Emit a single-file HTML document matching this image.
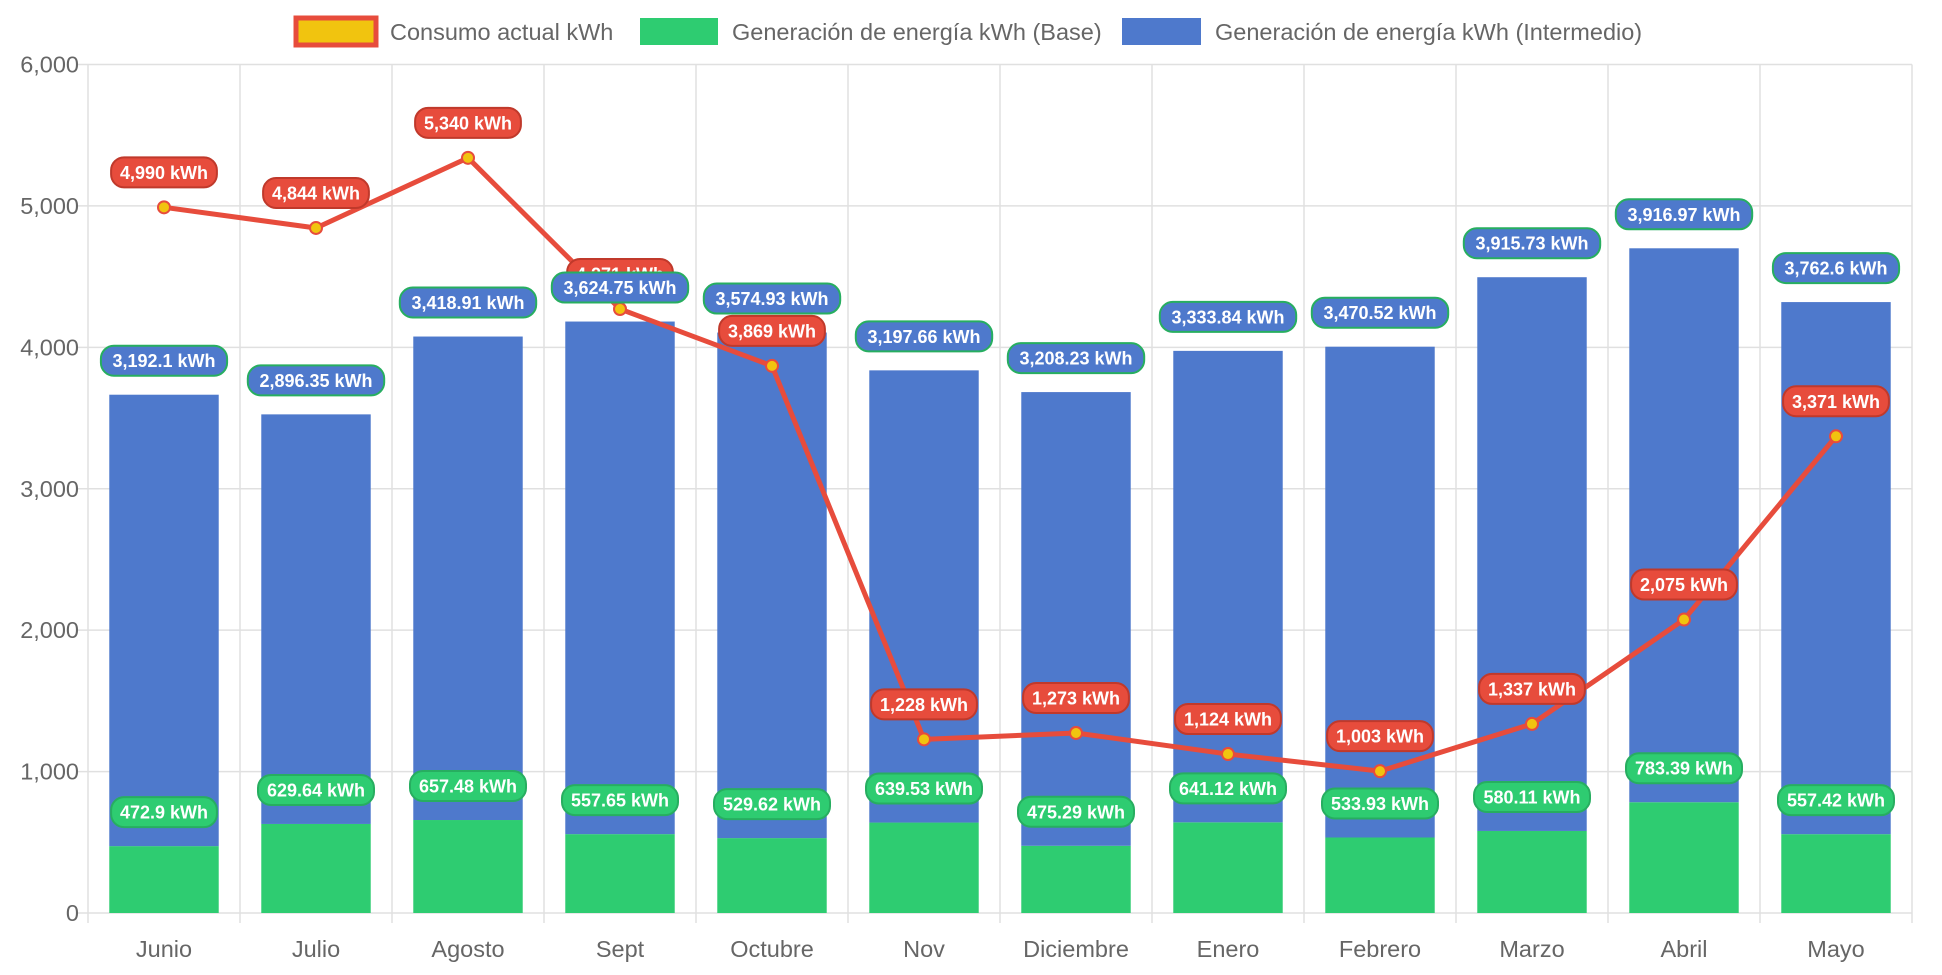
<!DOCTYPE html>
<html><head><meta charset="utf-8"><style>
body{margin:0;background:#fff;font-family:"Liberation Sans",Arial,sans-serif}
svg text{font-family:"Liberation Sans",Arial,sans-serif}
</style></head><body>
<svg id="chart" width="1942" height="970" xmlns="http://www.w3.org/2000/svg">
<g id="legend">
 <g><rect x="296" y="18" width="80" height="27" fill="#f1c40f" stroke="#e74c3c" stroke-width="5"/><text x="390" y="40" font-size="23.5" fill="#666">Consumo actual kWh</text></g>
 <g><rect x="640" y="18" width="78" height="27" fill="#2ecc71"/><text x="732" y="40" font-size="23.5" fill="#666">Generación de energía kWh (Base)</text></g>
 <g><rect x="1122" y="18" width="79" height="27" fill="#4e79cc"/><text x="1215" y="40" font-size="23.5" fill="#666">Generación de energía kWh (Intermedio)</text></g>
</g>
<g id="grid"></g><g id="bars"></g><g id="line"></g><g id="labels"></g>
</svg>
<script>
const categories=["Junio","Julio","Agosto","Sept","Octubre","Nov","Diciembre","Enero","Febrero","Marzo","Abril","Mayo"];
const baseValues=[472.9,629.64,657.48,557.65,529.62,639.53,475.29,641.12,533.93,580.11,783.39,557.42];
const interValues=[3192.1,2896.35,3418.91,3624.75,3574.93,3197.66,3208.23,3333.84,3470.52,3915.73,3916.97,3762.6];
const consumo=[4990,4844,5340,4271,3869,1228,1273,1124,1003,1337,2075,3371];
const yTicks=[0,1000,2000,3000,4000,5000,6000];
const NS="http://www.w3.org/2000/svg";
const X0=88,X1=1912,Y0=913,YMAX=6000,YTOP=64.5;
const bw=(X1-X0)/categories.length;
function y(v){return Y0-(v/YMAX)*(Y0-YTOP);}
function xc(i){return X0+bw*(i+0.5);}
function mk(tag,attrs,parent){const e=document.createElementNS(NS,tag);for(const k in attrs)e.setAttribute(k,attrs[k]);parent.appendChild(e);return e;}
const grid=document.getElementById('grid'),bars=document.getElementById('bars'),line=document.getElementById('line'),labels=document.getElementById('labels');
yTicks.forEach(t=>{
 const l=mk('line',{x1:X0-10,x2:X1,y1:y(t),y2:y(t),stroke:'#e0e0e0','stroke-width':1.5},grid);
 
 
 const tx=mk('text',{x:X0-9,y:y(t)+8,'text-anchor':'end','font-size':23.5,fill:'#666'},grid);
 tx.textContent=t.toLocaleString('en-US');
 
 
});
for(let i=0;i<=categories.length;i++){
 const x=X0+bw*i;
 const l=mk('line',{x1:x,x2:x,y1:YTOP,y2:Y0+10,stroke:'#e0e0e0','stroke-width':1.5},grid);
 
 
}
categories.forEach((c,i)=>{
 const tx=mk('text',{x:xc(i),y:957,'text-anchor':'middle','font-size':23.5,fill:'#666'},grid);
 tx.textContent=c;
 
 
});
function label(cx,cy,txt,bg,border){
 const g=mk('g',{},labels);
 
 
 const w=txt.length*10.2+14;
 mk('rect',{x:cx-w/2,y:cy-15,width:w,height:30,rx:13,fill:bg,stroke:border,'stroke-width':2},g);
 const t=mk('text',{x:cx,y:cy+6.5,'text-anchor':'middle','font-size':18,'font-weight':'bold',fill:'#fff'},g);
 t.textContent=txt;
}
const barW=bw*0.72;
categories.forEach((c,i)=>{
 const b=mk('rect',{x:xc(i)-barW/2,y:y(baseValues[i]),width:barW,height:Y0-y(baseValues[i]),fill:'#2ecc71'},bars);
 
 
 const top=baseValues[i]+interValues[i];
 const b2=mk('rect',{x:xc(i)-barW/2,y:y(top),width:barW,height:y(baseValues[i])-y(top),fill:'#4e79cc'},bars);
 
 
});
const pts=consumo.map((v,i)=>xc(i)+','+y(v)).join(' ');
const pl=mk('polyline',{points:pts,fill:'none',stroke:'#e74c3c','stroke-width':5,'stroke-linejoin':'round'},line);


consumo.forEach((v,i)=>{
 const p=mk('circle',{cx:xc(i),cy:y(v),r:6,fill:'#f1c40f',stroke:'#e74c3c','stroke-width':2},line);
 
 
});
const fmt=v=>v.toLocaleString('en-US',{maximumFractionDigits:2});
consumo.forEach((v,i)=>label(xc(i),y(v)-35,fmt(v)+' kWh','#e74c3c','#c0392b'));
categories.forEach((c,i)=>{
 label(xc(i),y(baseValues[i])-34,fmt(baseValues[i])+' kWh','#2ecc71','#27ae60');
 label(xc(i),y(baseValues[i]+interValues[i])-34,fmt(interValues[i])+' kWh','#4e79cc','#27ae60');
});
</script>
</body></html>
